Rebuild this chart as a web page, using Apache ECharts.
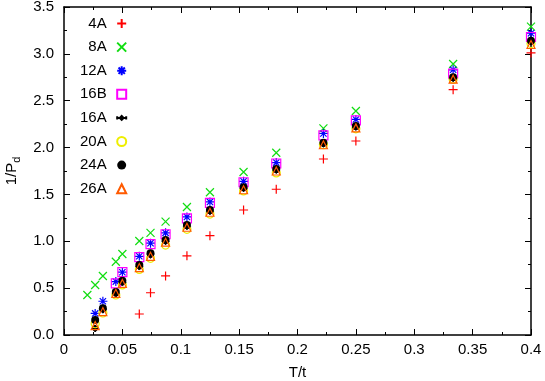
<!DOCTYPE html>
<html>
<head>
<meta charset="utf-8">
<script src="https://cdn.jsdelivr.net/npm/echarts@6/dist/echarts.min.js"></script>
<style>
  html, body { margin: 0; padding: 0; background: #fff; }
  #chart { width: 545px; height: 381px; }
</style>
</head>
<body>
<div id="chart"></div>
<script>
// T/t grid
const xAll = [0.02, 0.0267, 0.0333, 0.0444, 0.05, 0.0645, 0.0741, 0.087, 0.1053, 0.125, 0.1538, 0.1818, 0.2222, 0.25, 0.3333, 0.4]

const x4A = xAll.slice(5)
const y4A = [0.224, 0.451, 0.63, 0.845, 1.06, 1.334, 1.555, 1.878, 2.07, 2.618, 3.01]
const x8A = xAll
const y8A = [0.427, 0.534, 0.63, 0.782, 0.864, 1.003, 1.09, 1.209, 1.366, 1.523, 1.739, 1.945, 2.205, 2.39, 2.892, 3.29]
const x12A = xAll.slice(1)
const y12A = [0.23, 0.36, 0.57, 0.67, 0.84, 0.98, 1.09, 1.26, 1.42, 1.64, 1.84, 2.15, 2.30, 2.83, 3.22]
const x16B = xAll.slice(3)
const y16B = [0.55, 0.67, 0.83, 0.97, 1.075, 1.245, 1.41, 1.63, 1.83, 2.13, 2.29, 2.79, 3.18]
const x16A = xAll.slice(1)
const y16A = [0.07, 0.27, 0.44, 0.56, 0.73, 0.855, 1.0, 1.16, 1.32, 1.565, 1.76, 2.04, 2.22, 2.74, 3.13]
const x20A = xAll.slice(1)
const y20A = [0.12, 0.235, 0.427, 0.534, 0.70, 0.818, 0.96, 1.128, 1.29, 1.537, 1.73, 2.03, 2.20, 2.73, 3.11]
const x24A = xAll.slice(1)
const y24A = [0.16, 0.285, 0.46, 0.58, 0.747, 0.872, 1.014, 1.174, 1.334, 1.576, 1.771, 2.052, 2.23, 2.75, 3.14]
const x26A = xAll.slice(1)
const y26A = [0.10, 0.25, 0.445, 0.55, 0.72, 0.84, 0.99, 1.15, 1.31, 1.55, 1.75, 2.03, 2.21, 2.73, 3.10]

const names = ['4A', '8A', '12A', '16B', '16A', '20A', '24A', '26A']

const pairs = (xs, ys) => xs.map((x, i) => [x, ys[i]])

const FONT = 'Liberation Sans, Arial, sans-serif'
const NONE = 'rgba(0,0,0,0)'

const plus = 'path://M0,5L10,5M5,0L5,10'
const cross = 'path://M0,0L10,10M10,0L0,10'
const star = 'path://M0,5L10,5M5,0L5,10M1.5,1.5L8.5,8.5M8.5,1.5L1.5,8.5'
const errDiamond = 'path://M0,3L14,3M0,0.5L0,5.5M14,0.5L14,5.5M7,0L10,3L7,6L4,3Z'

function scatter(name, data, symbol, size, fill, stroke, width) {
  return {
    name: name,
    type: 'scatter',
    data: data,
    symbol: symbol,
    symbolSize: size,
    itemStyle: { color: fill, borderColor: stroke, borderWidth: width, opacity: 1 },
    emphasis: { disabled: true },
    silent: true
  }
}

const chart = echarts.init(document.getElementById('chart'), null, { renderer: 'canvas' })

const frameAxis = {
  min: 0,
  axisLine: { show: true, onZero: false, lineStyle: { color: '#000', width: 1.5 } },
  axisTick: { inside: true, length: 6, lineStyle: { color: '#000', width: 1 } },
  minorTick: { show: true, splitNumber: 2, length: 3, lineStyle: { color: '#000', width: 1 } },
  splitLine: { show: false }
}

const options = {
  animation: false,
  textStyle: { fontFamily: FONT },
  grid: { left: 64, right: 14, top: 7, bottom: 46, containLabel: false, outerBoundsMode: 'none' },
  legend: {
    orient: 'vertical',
    align: 'right',
    left: 80,
    top: 16,
    padding: 0,
    itemWidth: 9,
    itemHeight: 9,
    itemGap: 8.6,
    selectedMode: false,
    textStyle: { fontSize: 15, color: '#000', fontFamily: FONT, lineHeight: 9, padding: [0, 5.5, 0, 0] },
    data: names.map(n => n === '16A' ? { name: n, icon: errDiamond } : { name: n })
  },
  xAxis: [
    Object.assign({}, frameAxis, {
      type: 'value',
      max: 0.4,
      interval: 0.05,
      name: 'T/t',
      nameLocation: 'middle',
      nameGap: 30,
      nameTextStyle: { fontSize: 15, color: '#000', fontFamily: FONT },
      axisLabel: { fontSize: 15, color: '#000', margin: 7.5, fontFamily: FONT }
    }),
    Object.assign({}, frameAxis, {
      type: 'value',
      position: 'top',
      max: 0.4,
      interval: 0.05,
      axisLabel: { show: false }
    })
  ],
  yAxis: [
    Object.assign({}, frameAxis, {
      type: 'value',
      max: 3.5,
      interval: 0.5,
      name: '1/P{d|d}',
      nameLocation: 'middle',
      nameGap: 42,
      nameTextStyle: {
        fontSize: 15,
        color: '#000',
        fontFamily: FONT,
        rich: { d: { fontSize: 11, color: '#000', fontFamily: FONT, padding: [9, 0, 0, 0] } }
      },
      axisLabel: { fontSize: 15, color: '#000', margin: 10, fontFamily: FONT, formatter: v => v.toFixed(1) }
    }),
    Object.assign({}, frameAxis, {
      type: 'value',
      position: 'right',
      max: 3.5,
      interval: 0.5,
      axisLabel: { show: false }
    })
  ],
  series: [
    scatter('4A', pairs(x4A, y4A), plus, 9, NONE, '#ff0000', 1.2),
    scatter('8A', pairs(x8A, y8A), cross, 8, NONE, '#11dd11', 1.2),
    scatter('12A', pairs(x12A, y12A), star, 9, NONE, '#0000ff', 1.2),
    scatter('16B', pairs(x16B, y16B), 'rect', 9, NONE, '#ff00ff', 1.2),
    scatter('16A', pairs(x16A, y16A), 'diamond', 7, '#000', '#000', 1),
    scatter('20A', pairs(x20A, y20A), 'circle', 8, NONE, '#eeee00', 1.2),
    scatter('24A', pairs(x24A, y24A), 'circle', 8, '#000', '#000', 0),
    scatter('26A', pairs(x26A, y26A), 'triangle', 8, NONE, '#ff5a00', 1.2)
  ]
}

chart.setOption(options)
</script>
</body>
</html>
